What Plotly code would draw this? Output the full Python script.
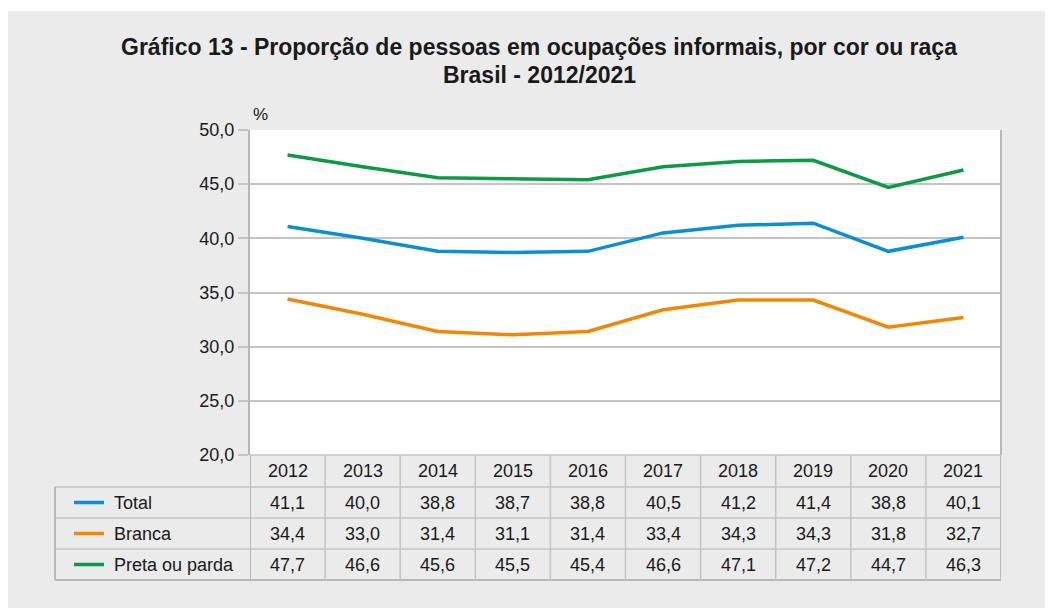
import plotly.graph_objects as go

years = ["2012", "2013", "2014", "2015", "2016", "2017", "2018", "2019", "2020", "2021"]
total = [41.1, 40.0, 38.8, 38.7, 38.8, 40.5, 41.2, 41.4, 38.8, 40.1]
branca = [34.4, 33.0, 31.4, 31.1, 31.4, 33.4, 34.3, 34.3, 31.8, 32.7]
preta = [47.7, 46.6, 45.6, 45.5, 45.4, 46.6, 47.1, 47.2, 44.7, 46.3]
series_names = ["Total", "Branca", "Preta ou parda"]
series_values = [total, branca, preta]
series_colors = ["#0b8fd4", "#f28705", "#0c9a45"]
title_lines = ["Gráfico 13 - Proporção de pessoas em ocupações informais, por cor ou raça",
               "Brasil - 2012/2021"]

W_FIG, H_FIG = 1053, 608
OFF = 8  # page body margin offset
L, R, T, B = 250, 1001, 130, 455  # target screen pixels
PW, PH = R - L, B - T


def px(x):
    return (x - L) / PW


def py(y):
    return (B - y) / PH


FONT = "Liberation Sans, Arial, sans-serif"
GRID = "#c4c4c4"
BORDER = "#b8b8b8"
TXT = "#1a1a1a"
xs = list(range(len(years)))

fig = go.Figure()
for name, vals, col in zip(series_names, series_values, series_colors):
    fig.add_trace(go.Scatter(x=xs, y=vals, mode="lines", name=name,
                             line=dict(color=col, width=3.5), showlegend=False))

shapes = []
annotations = []

# white strip at top (screen y 8..11)
shapes.append(dict(type="rect", xref="paper", yref="paper", x0=px(0), x1=px(W_FIG + 20),
                   y0=py(0), y1=py(11), fillcolor="white", line=dict(width=0), layer="below"))

# plot border right
shapes.append(dict(type="line", xref="paper", yref="paper", x0=1, x1=1, y0=0, y1=1,
                   line=dict(color=BORDER, width=2)))

row_edges = [455, 487, 518, 549, 580]
shapes.append(dict(type="line", xref="paper", yref="paper", x0=0, x1=1,
                   y0=py(row_edges[0]), y1=py(row_edges[0]), line=dict(color=GRID, width=1.5)))
for i, ry in enumerate(row_edges[1:]):
    last = i == len(row_edges) - 2
    shapes.append(dict(type="line", xref="paper", yref="paper", x0=px(55), x1=1,
                       y0=py(ry), y1=py(ry),
                       line=dict(color=BORDER if last else GRID, width=2 if last else 1.5)))
for k in range(len(years) + 1):
    xk = k - 0.5
    edge = k in (0, len(years))
    shapes.append(dict(type="line", xref="x", yref="paper", x0=xk, x1=xk,
                       y0=py(row_edges[0]), y1=py(row_edges[-1]),
                       line=dict(color=BORDER if edge else GRID, width=2 if edge else 1.5)))
shapes.append(dict(type="line", xref="paper", yref="paper", x0=px(55), x1=px(55),
                   y0=py(row_edges[1]), y1=py(row_edges[-1]), line=dict(color=BORDER, width=2)))

hc = (row_edges[0] + row_edges[1]) / 2
for i, yr in enumerate(years):
    annotations.append(dict(x=i, y=py(hc), xref="x", yref="paper", text=yr, showarrow=False,
                            font=dict(family=FONT, size=18, color=TXT),
                            xanchor="center", yanchor="middle"))

for r, (name, vals, col) in enumerate(zip(series_names, series_values, series_colors)):
    rc = (row_edges[r + 1] + row_edges[r + 2]) / 2
    shapes.append(dict(type="line", xref="paper", yref="paper", x0=px(74), x1=px(104),
                       y0=py(rc), y1=py(rc), line=dict(color=col, width=3.5)))
    annotations.append(dict(x=px(112), y=py(rc), xref="paper", yref="paper", text=name,
                            showarrow=False, font=dict(family=FONT, size=18, color=TXT),
                            xanchor="left", yanchor="middle"))
    for i, v in enumerate(vals):
        annotations.append(dict(x=i, y=py(rc), xref="x", yref="paper",
                                text=f"{v:.1f}".replace(".", ","), showarrow=False,
                                font=dict(family=FONT, size=18, color=TXT),
                                xanchor="center", yanchor="middle"))

annotations.append(dict(x=px(251), y=py(115), xref="paper", yref="paper", text="%",
                        showarrow=False, font=dict(family=FONT, size=17, color=TXT),
                        xanchor="left", yanchor="middle"))

for txt, yy in zip(title_lines, [47, 75]):
    annotations.append(dict(x=px(539), y=py(yy), xref="paper", yref="paper",
                            text=f"<b>{txt}</b>", showarrow=False,
                            font=dict(family=FONT, size=23, color=TXT),
                            xanchor="center", yanchor="middle"))

fig.update_layout(
    width=W_FIG, height=H_FIG, autosize=False,
    margin=dict(l=L - OFF, r=W_FIG - (R - OFF), t=T - OFF, b=H_FIG - (B - OFF), pad=0),
    paper_bgcolor="#ebebeb", plot_bgcolor="white",
    separators=",.",
    shapes=shapes, annotations=annotations,
    xaxis=dict(range=[-0.5, len(years) - 0.5], showgrid=False, zeroline=False,
               showticklabels=False, ticks="", showline=False),
    yaxis=dict(range=[20, 50], dtick=5, tickformat=".1f", showgrid=True, gridcolor=GRID,
               gridwidth=1.5, zeroline=False, showline=True, linecolor=BORDER, linewidth=2,
               ticks="outside", ticklen=10, tickcolor=GRID, tickwidth=1.5,
               tickfont=dict(family=FONT, size=18, color=TXT)),
)

fig.write_html("out.html")
